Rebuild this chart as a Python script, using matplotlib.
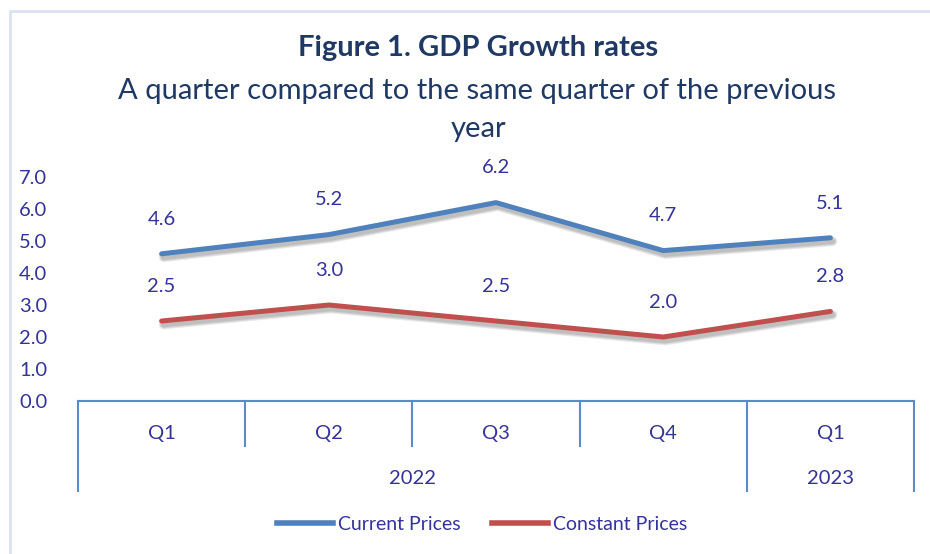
import matplotlib.pyplot as plt
import matplotlib.patheffects as pe
from matplotlib.patches import Rectangle
from matplotlib.lines import Line2D

# ---------------- data ----------------
quarters = ["Q1", "Q2", "Q3", "Q4", "Q1"]
years = ["2022", "2023"]
year_spans = [(0, 3), (4, 4)]     # first/last quarter index of each year
current_prices = [4.6, 5.2, 6.2, 4.7, 5.1]
constant_prices = [2.5, 3.0, 2.5, 2.0, 2.8]
yticks = [0, 1, 2, 3, 4, 5, 6, 7]

text_col = "#333399"
title_col = "#1F3864"
axis_col = "#5B8BC9"
blue = "#4F81BD"
red = "#C0504D"
font = "Lato"

plt.rcParams["font.family"] = [font, "DejaVu Sans"]

fig = plt.figure(figsize=(9.3, 5.54), dpi=100)
W, H = 930, 554

# outer light frame
fig.patches.append(Rectangle((10 / W, -0.1), 1.2, 1 - 11 / H + 0.1, transform=fig.transFigure,
                             fill=False, edgecolor="#D9E2F3", linewidth=2))

ax = fig.add_axes([78 / W, 153 / H, (914 - 78) / W, (401 - 177) / H])
x = list(range(len(quarters)))

# soft shadow: a few stacked faint offset strokes
shadow = [pe.SimpleLineShadow(offset=(1.5, -2.5), shadow_color="black", alpha=0.09, linewidth=w)
          for w in (7, 5.5, 4)] + [pe.Normal()]
ax.plot(x, current_prices, color=blue, lw=3.6, solid_capstyle="round", path_effects=shadow, label="Current Prices")
ax.plot(x, constant_prices, color=red, lw=3.6, solid_capstyle="round", path_effects=shadow, label="Constant Prices")

for xi, v in zip(x, current_prices):
    ax.annotate(f"{v:.1f}", (xi, v), xytext=(0, 25), textcoords="offset points",
                ha="center", va="center", fontsize=14.5, color=text_col)
for xi, v in zip(x, constant_prices):
    ax.annotate(f"{v:.1f}", (xi, v), xytext=(0, 25), textcoords="offset points",
                ha="center", va="center", fontsize=14.5, color=text_col)

ax.set_xlim(-0.5, len(quarters) - 0.5)
ax.set_ylim(0, 7)
ax.set_yticks(yticks)
ax.set_yticklabels([f"{t:.1f}" for t in yticks])
ax.tick_params(axis="y", length=0, labelsize=14.5, labelcolor=text_col, pad=22)
ax.set_xticks([])
for s in ["top", "right", "left"]:
    ax.spines[s].set_visible(False)
ax.spines["bottom"].set_color(axis_col)
ax.spines["bottom"].set_linewidth(1.5)

# multi-level category axis
trans = ax.get_xaxis_transform()
starts = [a for a, b in year_spans]
for i in range(len(quarters) + 1):
    b = i - 0.5
    tall = (i in starts) or i == len(quarters)
    ax.plot([b, b], [0, -0.40 if tall else -0.20], transform=trans, color=axis_col, lw=1.5, clip_on=False)
for xi, q in zip(x, quarters):
    ax.text(xi, -0.143, q, transform=trans, ha="center", va="center", fontsize=14.5, color=text_col)
for (a, b), yr in zip(year_spans, years):
    ax.text((a + b) / 2, -0.344, yr, transform=trans, ha="center", va="center", fontsize=14.5, color=text_col)

# titles
fig.text(478 / W, 1 - 48 / H, "Figure 1. GDP Growth rates", ha="center", va="center",
         fontsize=21, fontweight="bold", color=title_col)
fig.text(477 / W, 1 - 91 / H, "A quarter compared to the same quarter of the previous", ha="center",
         va="center", fontsize=21, color=title_col)
fig.text(478 / W, 1 - 129 / H, "year", ha="center", va="center", fontsize=21, color=title_col)

handles = [Line2D([], [], color=blue, lw=4), Line2D([], [], color=red, lw=4)]
fig.legend(handles, ["Current Prices", "Constant Prices"], loc="center", bbox_to_anchor=(482 / W, 1 - 524 / H),
           ncol=2, frameon=False, fontsize=14, labelcolor=text_col, handlelength=2.9,
           handletextpad=0.25, columnspacing=1.6)

fig.savefig("out.png", dpi=100, facecolor="white")
